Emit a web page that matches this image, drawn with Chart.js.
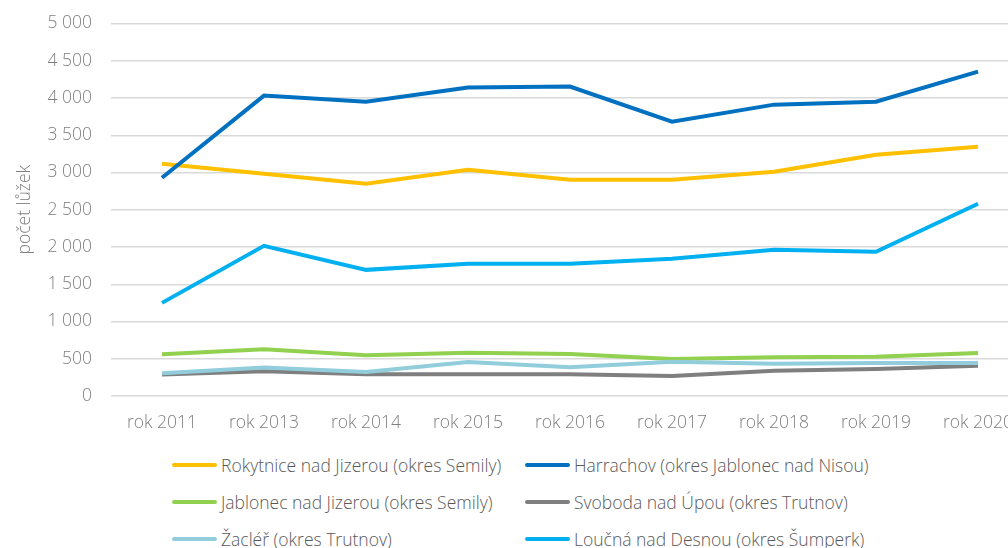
<!DOCTYPE html>
<html>
<head>
<meta charset="utf-8">
<script src="https://cdn.jsdelivr.net/npm/chart.js@4"></script>
<style>
  body { margin: 0; overflow: hidden; background: #fff; font-family: "Open Sans", sans-serif; }
  #wrap { position: absolute; left: 0; top: -6px; width: 1029px; height: 446px; }
  #legend { position: absolute; left: 172px; top: 453px; display: grid; grid-template-columns: 353px 420px; row-gap: 13px; }
  .item { display: flex; align-items: center; height: 24px; font-size: 17.5px; font-weight: 300; color: #595959; white-space: nowrap; }
  .item span.sw { display: inline-block; width: 45px; height: 4px; border-radius: 2px; margin-right: 4px; }
</style>
</head>
<body>
<div id="wrap"><canvas id="lineChart"></canvas></div>
<div id="legend"></div>
<script>
const years = ['rok 2011', 'rok 2013', 'rok 2014', 'rok 2015', 'rok 2016', 'rok 2017', 'rok 2018', 'rok 2019', 'rok 2020'];
const rokytnice = [3118, 2984, 2849, 3037, 2903, 2903, 3010, 3239, 3347];
const harrachov = [2930, 4032, 3951, 4140, 4153, 3683, 3911, 3951, 4355];
const jablonec = [560, 627, 547, 582, 564, 497, 520, 528, 578];
const svoboda = [287, 332, 291, 291, 291, 269, 340, 363, 407];
const zacler = [305, 381, 323, 457, 386, 461, 434, 443, 443];
const loucna = [1250, 2016, 1693, 1774, 1774, 1841, 1962, 1935, 2580];

const ctx = document.getElementById('lineChart').getContext('2d');
const mk = (label, data, color) => ({
  label: label, data: data, borderColor: color, backgroundColor: color,
  borderWidth: 4, pointRadius: 0, tension: 0, fill: false
});
const font = { family: 'Open Sans', size: 17.5, weight: 300 };

const lineChart = new Chart(ctx, {
  type: 'line',
  data: {
    labels: years,
    datasets: [
      mk('Rokytnice nad Jizerou (okres Semily)', rokytnice, '#FFC000'),
      mk('Harrachov (okres Jablonec nad Nisou)', harrachov, '#0070C0'),
      mk('Jablonec nad Jizerou (okres Semily)', jablonec, '#92D050'),
      mk('Svoboda nad Úpou (okres Trutnov)', svoboda, '#7F7F7F'),
      mk('Žacléř (okres Trutnov)', zacler, '#92CDDC'),
      mk('Loučná nad Desnou (okres Šumperk)', loucna, '#00B0F0')
    ].reverse()
  },
  options: {
    responsive: true,
    maintainAspectRatio: false,
    animation: false,
    layout: { padding: { top: 0, left: 0, right: 0, bottom: 0 } },
    plugins: { legend: { display: false }, tooltip: { enabled: false } },
    scales: {
      x: {
        offset: true,
        grid: { display: false },
        border: { display: false },
        ticks: { color: '#7f7f7f', font: font, padding: 9, maxRotation: 0 },
        afterFit: (scale) => { scale.height = 44; }
      },
      y: {
        min: 0, max: 5000,
        grid: { color: '#d9d9d9', lineWidth: 1.5, drawTicks: false },
        border: { display: false },
        ticks: {
          stepSize: 500, padding: 19, color: '#7f7f7f', font: font,
          callback: (v) => String(v).replace(/\B(?=(\d{3})+(?!\d))/g, ' ')
        },
        title: { display: true, text: 'počet lůžek', color: '#7f7f7f', padding: { top: 15, bottom: 0 }, font: font },
        afterFit: (scale) => { scale.width = 111; }
      }
    }
  }
});

// two-column legend, in original order
const legend = document.getElementById('legend');
lineChart.data.datasets.slice().reverse().forEach(ds => {
  const it = document.createElement('div');
  it.className = 'item';
  it.innerHTML = '<span class="sw" style="background:' + ds.borderColor + '"></span>' + ds.label;
  legend.appendChild(it);
});
</script>
</body>
</html>
